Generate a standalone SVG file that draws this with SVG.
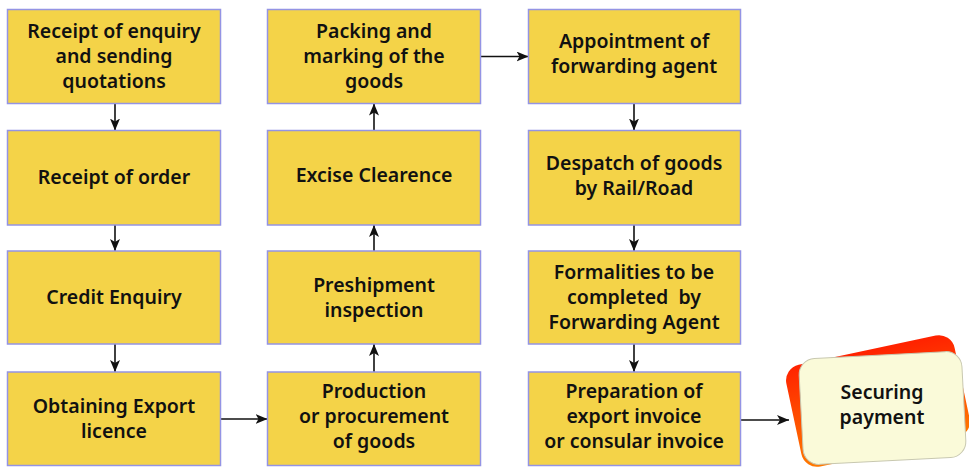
<svg xmlns="http://www.w3.org/2000/svg" width="969" height="470" viewBox="0 0 969 470">
<defs>
<style>
.box{fill:#F4D348;stroke:#9494E4;stroke-width:1.5}
.t{font-family:"Noto Sans","Open Sans",sans-serif;font-weight:600;font-size:19.5px;fill:#111;text-anchor:middle}
.c{stroke:#111;stroke-width:1.6;fill:none;marker-end:url(#ah)}
</style>
<marker id="ah" viewBox="0 0 12 10" refX="12" refY="5" markerWidth="12" markerHeight="10" markerUnits="userSpaceOnUse" orient="auto">
<path d="M0,0 L12,5 L0,10 L3,5 z" fill="#111"/>
</marker>
<linearGradient id="rg" x1="0" y1="0" x2="0" y2="1">
<stop offset="0" stop-color="#FF2200"/>
<stop offset="1" stop-color="#FF7A00"/>
</linearGradient>
</defs>
<g id="connectors">
<path class="c" d="M115,103.5 V130.5"/>
<path class="c" d="M115,225 V251"/>
<path class="c" d="M115,344 V372"/>
<path class="c" d="M220.5,419 H267.5"/>
<path class="c" d="M374,372 V344"/>
<path class="c" d="M374,251 V225"/>
<path class="c" d="M374,130.5 V103.5"/>
<path class="c" d="M480.5,56.5 H528.5"/>
<path class="c" d="M634,103.5 V130.5"/>
<path class="c" d="M634,225 V251"/>
<path class="c" d="M634,344 V372"/>
<path class="c" d="M740.5,420 H789"/>
</g>
<g id="n1"><rect class="box" x="7.5" y="9.5" width="213" height="94"/>
<text class="t" x="114" y="37.5">Receipt of enquiry</text><text class="t" x="114" y="62.5">and sending</text><text class="t" x="114" y="87.5">quotations</text></g>
<g id="n2"><rect class="box" x="7.5" y="130.5" width="213" height="94.5"/>
<text class="t" x="114" y="184">Receipt of order</text></g>
<g id="n3"><rect class="box" x="7.5" y="251" width="213" height="93"/>
<text class="t" x="114" y="304">Credit Enquiry</text></g>
<g id="n4"><rect class="box" x="7.5" y="372" width="213" height="93.5"/>
<text class="t" x="114" y="413">Obtaining Export</text><text class="t" x="114" y="438">licence</text></g>
<g id="n5"><rect class="box" x="267.5" y="372" width="213" height="93.5"/>
<text class="t" x="374" y="398">Production</text><text class="t" x="374" y="423">or procurement</text><text class="t" x="374" y="448">of goods</text></g>
<g id="n6"><rect class="box" x="267.5" y="251" width="213" height="93"/>
<text class="t" x="374" y="292">Preshipment</text><text class="t" x="374" y="317">inspection</text></g>
<g id="n7"><rect class="box" x="267.5" y="130.5" width="213" height="94.5"/>
<text class="t" x="374" y="182">Excise Clearence</text></g>
<g id="n8"><rect class="box" x="267.5" y="9.5" width="213" height="94"/>
<text class="t" x="374" y="37.5">Packing and</text><text class="t" x="374" y="62.5">marking of the</text><text class="t" x="374" y="87.5">goods</text></g>
<g id="n9"><rect class="box" x="528.5" y="9.5" width="212" height="94"/>
<text class="t" x="634" y="48">Appointment of</text><text class="t" x="634" y="73">forwarding agent</text></g>
<g id="n10"><rect class="box" x="528.5" y="130.5" width="212" height="94.5"/>
<text class="t" x="634" y="170">Despatch of goods</text><text class="t" x="634" y="195">by Rail/Road</text></g>
<g id="n11"><rect class="box" x="528.5" y="251" width="212" height="93"/>
<text class="t" x="634" y="279">Formalities to be</text><text class="t" x="634" y="304" xml:space="preserve">completed  by</text><text class="t" x="634" y="329">Forwarding Agent</text></g>
<g id="n12"><rect class="box" x="528.5" y="372" width="212" height="93.5"/>
<text class="t" x="634" y="398">Preparation of</text><text class="t" x="634" y="423">export invoice</text><text class="t" x="634" y="448">or consular invoice</text></g>
<g id="n13">
<rect x="792" y="349" width="172" height="104" rx="16" fill="url(#rg)" transform="rotate(-12 878 401)"/>
<rect x="801" y="355" width="163" height="106" rx="16" fill="#FAFAD9" stroke="#C8C8B0" stroke-width="1" transform="rotate(-3 882.5 408)"/>
<text class="t" x="882" y="399">Securing</text><text class="t" x="882" y="424">payment</text>
</g>
</svg>
